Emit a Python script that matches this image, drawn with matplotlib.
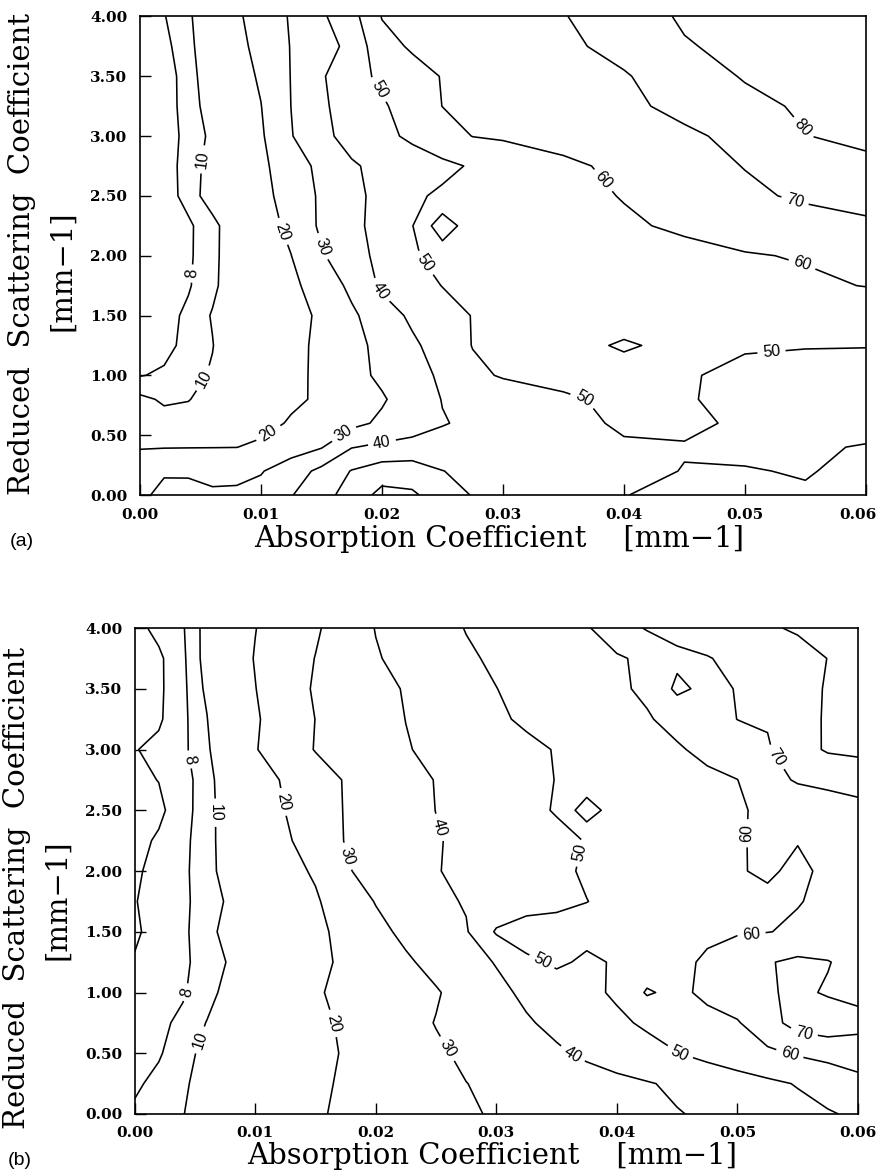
import numpy as np
import matplotlib
matplotlib.use("Agg")
import matplotlib.pyplot as plt
from matplotlib.transforms import ScaledTranslation

# ---- panel (a): values ----
xa = [0, 0.002, 0.004, 0.006, 0.008, 0.010, 0.0125, 0.015, 0.0175, 0.020,
      0.0225, 0.025, 0.0275, 0.030, 0.035, 0.040, 0.045, 0.050, 0.055, 0.060]
ya = [0, 0.2, 0.4, 0.6, 0.8, 1.0, 1.25, 1.5, 1.75, 2.0, 2.25, 2.5, 2.75,
      3.0, 3.25, 3.5, 3.75, 4.0]
za = [
    [28, 32.5, 31.2, 30.8, 31, 33, 39.5, 46.5, 54, 63, 61.5, 55, 49.5, 48, 47, 49.8, 52, 52.5, 50.8, 53],
    [25, 29, 29.5, 28.5, 28.5, 29.4, 35, 42.5, 50.5, 55, 55, 50.2, 47.5, 46.5, 46, 47.5, 50.3, 50.4, 49.5, 52],
    [19.5, 19.6, 19.7, 19.8, 19.9, 21.8, 25.8, 29.4, 39.6, 42, 43.5, 43.5, 44, 44.5, 46, 49.2, 49.5, 48.5, 49, 50.5],
    [12, 10.8, 11, 12, 14, 16.8, 21, 24.2, 27.4, 31.7, 35.2, 39.5, 41.6, 43.8, 47.8, 51, 51.5, 48.8, 47.5, 47],
    [10.5, 9.7, 9.9, 10.9, 13.6, 15.7, 18.3, 21.4, 25.2, 29, 34.8, 40.3, 42.6, 44.8, 49.1, 51.5, 50.6, 48, 46.5, 46],
    [7.9, 8.3, 9.1, 10.3, 12.6, 15, 18, 21.6, 26.9, 31.8, 36.5, 41.5, 48, 50.8, 52, 51.8, 50.6, 48.5, 47, 46.5],
    [7, 7.4, 8.6, 9.9, 12.4, 14.8, 17.8, 21.6, 27.1, 32.6, 38.4, 44, 50.3, 51.2, 51.5, 49.5, 51.2, 50.6, 50.4, 50.3],
    [6.8, 7.3, 8.4, 10.2, 12.5, 14.8, 17.6, 21.1, 28.3, 35.5, 41.7, 46.5, 50.3, 50.5, 51.2, 52, 52.7, 53.5, 54.2, 55],
    [6.6, 7.1, 7.8, 9.4, 11.9, 14.7, 18.2, 23.8, 32.3, 41.6, 46.3, 50.2, 50.9, 51.6, 53.1, 54.5, 56, 57.4, 58.9, 60.2],
    [6.5, 7.1, 7.7, 9.2, 12.1, 15.5, 19.9, 29, 36, 42.7, 48.6, 54, 52.5, 52.4, 54.1, 55.8, 57.5, 59.5, 60.5, 64],
    [6.5, 7.2, 7.7, 9.1, 12.2, 16.2, 22, 31.7, 37.4, 43.5, 49.6, 66, 54, 55, 56.8, 58.8, 61.4, 63.4, 65.7, 68],
    [6.3, 7.2, 8.6, 11.5, 14.5, 17.6, 23.3, 31.6, 37.3, 43, 48.8, 51.2, 52.8, 54.2, 57.3, 60.4, 64.3, 68.2, 71.5, 74],
    [6.2, 7.3, 8.6, 11.2, 14.6, 18.1, 25, 32.6, 39, 42.4, 45.2, 48.1, 50.8, 53.2, 58, 62.3, 66.3, 70.3, 74, 77],
    [6, 7.2, 8.5, 10.6, 14.7, 18.8, 29.5, 37.7, 43.2, 47.5, 51.8, 55.9, 60.2, 61.2, 63.7, 66.2, 68.7, 72, 79.7, 83],
    [6, 7.2, 8.7, 11.4, 15.6, 19.8, 30.1, 38.6, 44, 48.7, 54.7, 60.1, 61.6, 63, 65.7, 68.4, 72, 77.1, 81.5, 84],
    [6, 7.2, 8.75, 12.1, 16.4, 21.1, 30.3, 39, 46.3, 51.9, 56.6, 60.4, 61.9, 63.4, 66.3, 69.3, 74.7, 80.8, 84, 86],
    [6.2, 7.5, 9.1, 12.6, 17.4, 22.8, 30.4, 35.7, 42.9, 56.8, 61.1, 62.5, 63.9, 65.4, 68.3, 72.6, 79.4, 82, 84.5, 86.5],
    [6.5, 7.9, 9.4, 13.1, 18.6, 24, 30.9, 38.5, 46.5, 60.4, 61.9, 63.4, 64.9, 66.5, 69.5, 76, 81, 83, 85, 87],
]

# ---- panel (b) ----
xb = [0, 0.002, 0.004, 0.006, 0.008, 0.010, 0.0125, 0.015, 0.0175, 0.020,
      0.0225, 0.025, 0.0275, 0.030, 0.0325, 0.035, 0.0375, 0.040, 0.0425,
      0.045, 0.0475, 0.050, 0.0525, 0.055, 0.0575, 0.060]
yb = [0, 0.25, 0.5, 0.75, 1.0, 1.25, 1.5, 1.75, 2.0, 2.25, 2.5, 2.75, 3.0,
      3.25, 3.5, 3.75, 4.0]
zb = [
    [8.3, 9, 9.9, 11.5, 13.2, 14.9, 17.1, 19.2, 21.2, 23.2, 25.1, 27, 29, 30.8, 32.2, 33.7, 35.2, 36.6, 38.1, 39.6, 41.1, 43.4, 45.4, 47.4, 49.3, 51.3],
    [7.7, 8.5, 9.6, 11.1, 12.8, 14.5, 16.6, 18.7, 20.9, 23.2, 25.4, 27.7, 29.9, 31.5, 33.1, 34.7, 36.2, 37.8, 39.4, 41.4, 43.6, 45.9, 48.2, 50.5, 53.5, 57],
    [7.5, 7.8, 9.1, 10.8, 12.4, 14.1, 16.2, 18.3, 20.5, 23.3, 26, 28.8, 31.4, 33.9, 36.4, 38.8, 41.5, 44.2, 47, 49.8, 52.7, 55.5, 58.3, 61, 63, 65],
    [7.2, 7.6, 8.4, 10.1, 11.9, 13.8, 16.1, 18.4, 21, 24.1, 27.2, 30.3, 33.3, 36.2, 39.1, 42.1, 45.3, 48.4, 51.3, 53.9, 56.6, 59.3, 66, 74, 76, 73],
    [6.6, 7.2, 7.8, 9.1, 11.1, 13.4, 16.3, 19.2, 21.9, 24.3, 26.8, 29.3, 33.3, 37.8, 41.7, 44.8, 48, 51.2, 61, 57.5, 62.4, 65.3, 68.9, 72, 69, 67.5],
    [6.1, 6.9, 7.6, 8.9, 10.3, 12.5, 15.3, 18.2, 21.3, 25.1, 28.8, 32.6, 36.6, 40.5, 48, 51.5, 48.5, 50.8, 54, 58, 61.2, 65.5, 69.3, 72, 70.5, 66],
    [5.8, 6.5, 7.6, 9.2, 11.1, 13.2, 15.7, 18.4, 22, 27.6, 31.9, 35.6, 39.2, 51, 55, 54, 52.5, 54, 55.5, 57, 58.5, 59.2, 59.8, 61, 62, 63],
    [5.9, 6.8, 7.6, 8.9, 10.5, 12.9, 15.9, 19, 24.9, 30.4, 34, 37.6, 40.8, 43.1, 45.4, 47.7, 49.9, 51.6, 52.8, 54.1, 55.5, 56.9, 58.5, 59.7, 61.3, 63],
    [5.7, 6.6, 7.6, 9.1, 11.4, 14, 17.2, 21, 29.2, 32.9, 36.3, 39.6, 41.9, 44.1, 46.3, 48.6, 50.8, 52.4, 54.2, 55.9, 57.7, 59.5, 61, 58.5, 61.5, 64],
    [5.3, 6.3, 7.5, 9.1, 11.6, 14.8, 18.7, 24.4, 30.4, 33.4, 36.4, 39.4, 41.9, 43.9, 46.1, 48.2, 50.3, 52.1, 53.9, 55.7, 57.5, 59.3, 61.5, 60.3, 63, 65],
    [5.3, 5.5, 7.3, 9, 11.8, 15.5, 20.1, 25.4, 30.5, 33.7, 36.8, 40.1, 42.7, 45.5, 48.2, 50.5, 66, 53.5, 55, 56.5, 58, 59.4, 61.1, 63.1, 65.1, 67],
    [5.5, 6.05, 7.2, 9.1, 12, 16, 21, 26, 30.6, 33.9, 37.1, 40.3, 42.8, 45.3, 47.8, 50.2, 51.8, 53.4, 55, 56.6, 58.2, 59.9, 66.6, 71, 72.5, 74],
    [5.9, 6.5, 7.6, 9.4, 14.1, 19.5, 25.1, 30.4, 33.4, 36.5, 39.5, 41.8, 44, 46.1, 48.3, 50.4, 52.6, 54.8, 56.9, 59.1, 62.1, 65.5, 69, 76.4, 81, 82],
    [5.2, 5.7, 7.5, 9.9, 14.5, 19, 24.7, 30.1, 33.4, 36.8, 40.1, 43, 45.9, 48.8, 51.2, 53.2, 55.2, 57.3, 59.3, 62.5, 66.4, 70.1, 70.8, 76.5, 81, 82],
    [5, 5.6, 7.5, 10.5, 14.9, 19.8, 25.7, 30.9, 34.2, 37.4, 40.6, 43.8, 46.9, 49.9, 52.2, 54.4, 56.6, 58.8, 61.3, 72, 67.6, 70.4, 73.8, 77.3, 80.6, 82.5],
    [5, 5.6, 7.6, 10.95, 15.7, 20.4, 25.3, 30.2, 34.7, 39.3, 42.6, 45.8, 48.9, 51.2, 53.2, 55.1, 57.1, 59, 61.8, 68, 69.5, 72.3, 74.9, 77.4, 80.1, 82],
    [5.3, 6.6, 7.8, 10.9, 15.3, 19.8, 24.4, 28.9, 34.5, 40.3, 43.6, 47, 50.3, 52.5, 54.7, 57, 59.2, 65.2, 70.8, 72.9, 75, 77.1, 79.2, 80.8, 82, 83],
]

levels_a = [8, 10, 20, 30, 40, 50, 60, 70, 80]
levels_b = [6, 8, 10, 20, 30, 40, 50, 60, 70, 80]

# where the inline labels sit (only these get a label)
label_pos_a = [(0.0044, 1.85), (0.0055, 2.8), (0.0055, 0.96), (0.012, 2.21),
               (0.0106, 0.52), (0.0149, 2.07), (0.0172, 0.46), (0.0196, 1.69),
               (0.020, 0.44), (0.0196, 3.38), (0.0236, 1.94), (0.0366, 0.78),
               (0.0522, 1.19), (0.0383, 2.63), (0.0547, 1.92), (0.054, 2.41),
               (0.0547, 3.06)]
label_pos_b = [(0.0047, 2.92), (0.0044, 1.0), (0.007, 2.48), (0.0054, 0.61),
               (0.0124, 2.57), (0.0167, 0.75), (0.0176, 2.12), (0.0258, 0.53),
               (0.0253, 2.36), (0.0363, 0.49), (0.0369, 2.15), (0.0336, 1.22),
               (0.0452, 0.5), (0.051, 2.31), (0.0512, 1.45), (0.0543, 0.48),
               (0.0533, 2.94), (0.0555, 0.66)]

xticks = [0.0, 0.01, 0.02, 0.03, 0.04, 0.05, 0.06]
yticks = [0.0, 0.5, 1.0, 1.5, 2.0, 2.5, 3.0, 3.5, 4.0]

serif = "DejaVu Serif"
sans = "Liberation Sans"
xlab = "Absorption Coefficient    [mm\u22121]"
ylab1 = "Reduced  Scattering  Coefficient"
ylab2 = "[mm\u22121]"

fig = plt.figure(figsize=(8.8, 11.73), dpi=100)


def panel(rect, x, y, z, levels, lab_pos, last_shift=0):
    ax = fig.add_axes(rect)
    cs = ax.contour(x, y, np.array(z), levels=levels, colors="k", linewidths=1.15)
    ax.set_xlim(0, 0.06)
    ax.set_ylim(0, 4)
    txts = ax.clabel(cs, manual=lab_pos, inline=True,
                     fmt="%d", fontsize=11.5, inline_spacing=4)
    for t in txts:
        t.set_fontfamily(sans)
    ax.set_xticks(xticks)
    ax.set_yticks(yticks)
    ax.set_xticklabels(["%.2f" % v for v in xticks], fontweight="bold",
                       fontfamily=serif, fontsize=11)
    ax.set_yticklabels(["%.2f" % v for v in yticks], fontweight="bold",
                       fontfamily=serif, fontsize=11)
    ax.tick_params(direction="in", length=8, width=1, pad=9)
    if last_shift:
        lab = ax.xaxis.get_major_ticks()[-1].label1
        lab.set_transform(lab.get_transform() +
                          ScaledTranslation(last_shift / 72, 0, fig.dpi_scale_trans))
    for s in ax.spines.values():
        s.set_linewidth(1.2)
    return ax


ax_a = panel([0.159, 0.578, 0.825, 0.408], xa, ya, za, levels_a, label_pos_a, last_shift=-6)
ax_b = panel([0.153, 0.0503, 0.822, 0.4143], xb, yb, zb, levels_b, label_pos_b)

# axis titles
fig.text(0.567, 0.5337, xlab, ha="center", va="baseline", fontsize=21, fontfamily=serif)
fig.text(0.025, 0.7835, ylab1, rotation=90, ha="center", va="center", fontsize=21, fontfamily=serif)
fig.text(0.0705, 0.769, ylab2, rotation=90, ha="center", va="center", fontsize=21, fontfamily=serif)
fig.text(0.025, 0.5345, "(a)", ha="center", va="baseline", fontsize=14, fontfamily=sans)

fig.text(0.559, 0.0075, xlab, ha="center", va="baseline", fontsize=21, fontfamily=serif)
fig.text(0.019, 0.243, ylab1, rotation=90, ha="center", va="center", fontsize=21, fontfamily=serif)
fig.text(0.065, 0.2327, ylab2, rotation=90, ha="center", va="center", fontsize=21, fontfamily=serif)
fig.text(0.023, 0.0068, "(b)", ha="center", va="baseline", fontsize=14, fontfamily=sans)

fig.savefig("out.png", dpi=100)
plt.close(fig)
